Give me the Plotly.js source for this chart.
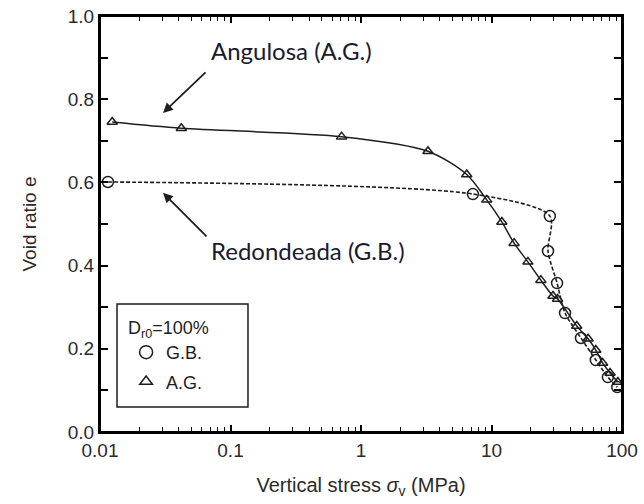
<!DOCTYPE html>
<html>
<head>
<meta charset="utf-8">
<script src="https://cdn.plot.ly/plotly-3.0.1.min.js"></script>
<style>
html,body{margin:0;padding:0;background:#fff;}
#chart{width:644px;height:504px;}
</style>
</head>
<body>
<div id="chart"></div>
<script>
// Angulosa (A.G.) series — vertical stress (MPa) and void ratio
const agStress = [0.0124, 0.042, 0.71, 3.26, 6.46, 9.2, 12.0, 14.9, 19.0, 23.9, 29.6, 32.1, 45, 55, 63, 71, 81, 93];
const agVoid   = [0.745, 0.730, 0.710, 0.675, 0.619, 0.558, 0.505, 0.454, 0.409, 0.365, 0.327, 0.320, 0.255, 0.224, 0.197, 0.166, 0.142, 0.120];
// Redondeada (G.B.) series
const gbStress = [0.0115, 7.2, 28, 27.1, 31.8, 36.6, 48.5, 63, 78, 92];
const gbVoid   = [0.601, 0.572, 0.519, 0.435, 0.358, 0.286, 0.226, 0.173, 0.132, 0.108];
// axis ticks
const xTickVals = [0.01, 0.1, 1, 10, 100];
const xTickText = ['0.01', '0.1', '1', '10', '100'];
const yTickVals = [0.0, 0.2, 0.4, 0.6, 0.8, 1.0];
const yTickText = ['0.0', '0.2', '0.4', '0.6', '0.8', '1.0'];
const yMinorVals = [0.1, 0.3, 0.5, 0.7, 0.9];
const logMinorDigits = [2, 3, 4, 5, 6, 7, 8, 9];
// labels
const legendTitle = 'D<sub>r0</sub>=100%';
const gbName = 'G.B.';
const agName = 'A.G.';
const agLabel = 'Angulosa (A.G.)';
const gbLabel = 'Redondeada (G.B.)';

const xMinorVals = [];
xTickVals.slice(0, -1).forEach(d => logMinorDigits.forEach(m => xMinorVals.push(+(d * m).toPrecision(3))));

const ink = '#000000';
const dark = '#1e1e1e';
const clear = 'rgba(0,0,0,0)';
const fam = 'Liberation Sans, Arial, sans-serif';
const xTickFont = {family: fam, size: 19, color: '#2a2a2a'};
const yTickFont = {family: fam, size: 19, color: '#2a2a2a'};

const traces = [
  {x: agStress, y: agVoid, type: 'scatter', mode: 'lines+markers', showlegend: false,
   line: {color: dark, width: 1.5, shape: 'spline', smoothing: 0.8},
   marker: {symbol: 'triangle-up-open', size: 9, color: dark, line: {width: 1.5, color: dark}}},
  {x: gbStress, y: gbVoid, type: 'scatter', mode: 'lines+markers', showlegend: false,
   line: {color: dark, width: 1.6, dash: '4px,2px', shape: 'spline', smoothing: 0.8},
   marker: {symbol: 'circle-open', size: 11, color: dark, line: {width: 1.5, color: dark}}},
  {x: [null], y: [null], type: 'scatter', mode: 'markers', name: gbName, legendgroup: 'g',
   marker: {symbol: 'circle-open', size: 13, color: dark, line: {width: 1.5, color: dark}}},
  {x: [null], y: [null], type: 'scatter', mode: 'markers', name: agName, legendgroup: 'a',
   marker: {symbol: 'triangle-up-open', size: 11, color: dark, line: {width: 1.5, color: dark}}}
];

const lx = v => Math.log10(v);

const layout = {
  width: 644, height: 504,
  margin: {l: 100, r: 22, t: 16, b: 72},
  font: {family: fam, color: dark},
  xaxis: {
    type: 'log', range: [-2, 2], autorange: false,
    tickmode: 'array', tickvals: xTickVals, ticktext: xTickText,
    ticks: 'inside', ticklen: 7, tickwidth: 1.5, tickcolor: ink,
    minor: {tickmode: 'array', tickvals: xMinorVals, ticks: 'inside', ticklen: 5, tickwidth: 1.2, tickcolor: ink},
    showline: true, linewidth: 2, linecolor: ink, mirror: 'ticks',
    gridcolor: clear,
    tickfont: xTickFont,
    title: {text: 'Vertical stress <i>σ</i><sub>v</sub> (MPa)', font: {family: fam, size: 20, color: '#2a2a2a'}, standoff: 18}
  },
  yaxis: {
    range: [0, 1], autorange: false,
    tickmode: 'array', tickvals: yTickVals, ticktext: yTickText,
    ticks: 'inside', ticklen: 8, tickwidth: 1.5, tickcolor: ink,
    minor: {tickmode: 'array', tickvals: yMinorVals, ticks: 'inside', ticklen: 8, tickwidth: 1.5, tickcolor: ink},
    showline: true, linewidth: 2, linecolor: ink, mirror: 'ticks',
    gridcolor: clear, zerolinecolor: ink, zerolinewidth: 2,
    tickfont: yTickFont,
    title: {text: 'Void ratio e', font: {family: fam, size: 19, color: '#2a2a2a'}, standoff: 26}
  },
  showlegend: true,
  legend: {
    x: 0.05, y: 0.292, xanchor: 'left', yanchor: 'top',
    bgcolor: clear, borderwidth: 0,
    font: {family: fam, size: 18, color: dark},
    title: {text: legendTitle, font: {family: fam, size: 18, color: dark}},
    tracegroupgap: 3, itemwidth: 30
  },
  shapes: [
    {type: 'rect', xref: 'paper', yref: 'paper', x0: 0, x1: 1, y0: 0, y1: 1, layer: 'above',
     line: {color: ink, width: 2}, fillcolor: clear},
    {type: 'rect', xref: 'paper', yref: 'paper', x0: 0.0326, x1: 0.2835, y0: 0.060, y1: 0.3077,
     line: {color: dark, width: 1.5}, fillcolor: clear}
  ],
  annotations: [
    {x: lx(0.0304), y: 0.767, xref: 'x', yref: 'y', text: '', showarrow: true,
     ax: 44, ay: -42, arrowhead: 2, arrowsize: 1.1, arrowwidth: 1.8, arrowcolor: dark},
    {x: lx(0.0304), y: 0.575, xref: 'x', yref: 'y', text: '', showarrow: true,
     ax: 45, ay: 45, arrowhead: 2, arrowsize: 1.1, arrowwidth: 1.8, arrowcolor: dark},
    {x: lx(0.0685), y: 0.916, xref: 'x', yref: 'y', text: agLabel, showarrow: false,
     xanchor: 'left', yanchor: 'middle', font: {family: 'Lato', size: 24, color: '#1a1a30'}},
    {x: lx(0.0685), y: 0.4375, xref: 'x', yref: 'y', text: gbLabel, showarrow: false,
     xanchor: 'left', yanchor: 'middle', font: {family: 'Lato', size: 24, color: '#1a1a30'}}
  ]
};

Plotly.newPlot('chart', traces, layout, {displayModeBar: false});
</script>
</body>
</html>
